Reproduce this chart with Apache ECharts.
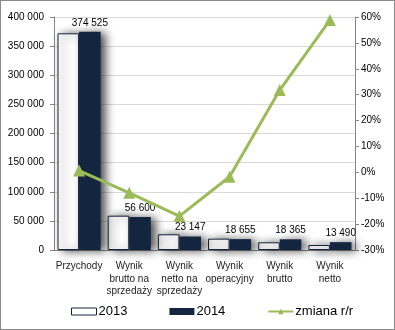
<!DOCTYPE html>
<html><head><meta charset="utf-8">
<script src="https://cdn.jsdelivr.net/npm/echarts@6/dist/echarts.min.js"></script>
<style>
html,body{margin:0;padding:0;background:#fff;}
#wrap{width:395px;height:330px;box-sizing:border-box;border:1px solid #8a8a8a;position:relative;overflow:hidden;}
#c{position:absolute;left:-1px;top:-1px;width:395px;height:330px;}
</style></head>
<body><div id="wrap"><div id="c"></div></div>
<script>
var categories = ['Przychody', 'Wynik\nbrutto na\nsprzedaży', 'Wynik\nnetto na\nsprzedaży', 'Wynik\noperacyjny', 'Wynik\nbrutto', 'Wynik\nnetto'];
var values2013 = [372000, 58900, 27000, 19500, 13200, 8600];
var values2014 = [374525, 56600, 23147, 18655, 18365, 13490];
var changeYoY = [0.7, -7.9, -16.9, -1.7, 31.8, 58.8];
var leftTicks = {min: 0, max: 400000, interval: 50000};
var rightTicks = {min: -30, max: 60, interval: 10};

function fmtThousands(v){ return String(Math.round(v)).replace(/\B(?=(\d{3})+(?!\d))/g, ' '); }

var chart = echarts.init(document.getElementById('c'), null, {renderer: 'canvas'});
var font = 'Liberation Sans, Arial, sans-serif';
var shadow = {shadowBlur: 10, shadowOffsetX: 5, shadowOffsetY: 1, shadowColor: 'rgba(0,0,0,0.7)'};
chart.setOption({
  animation: false,
  textStyle: {fontFamily: font},
  grid: {left: 54, right: 40, top: 17, bottom: 80},
  legend: {
    left: 66, top: 300, itemWidth: 25, itemHeight: 7, itemGap: 42,
    textStyle: {fontSize: 13, color: '#000', padding: [0,0,0,-3]},
    data: [
      {name: '2013', icon: 'rect', itemStyle: {color: '#fff', borderColor: '#14253f', borderWidth: 1, shadowBlur: 0, shadowOffsetX: 0, shadowOffsetY: 0}},
      {name: '2014', icon: 'rect', itemStyle: {shadowBlur: 0, shadowOffsetX: 0, shadowOffsetY: 0}},
      {name: 'zmiana r/r'}
    ]
  },
  xAxis: {
    type: 'category', data: categories,
    axisLine: {lineStyle: {color: '#868686'}},
    axisTick: {show: false},
    axisLabel: {interval: 0, fontSize: 10, color: '#222', lineHeight: 12.5, margin: 10}
  },
  yAxis: [
    {
      type: 'value', min: leftTicks.min, max: leftTicks.max, interval: leftTicks.interval,
      axisLine: {show: true, lineStyle: {color: '#868686'}},
      axisTick: {show: true, length: 4, lineStyle: {color: '#868686'}},
      splitLine: {lineStyle: {color: '#d9d9d9'}},
      axisLabel: {fontSize: 10, color: '#000', margin: 10, formatter: fmtThousands}
    },
    {
      type: 'value', min: rightTicks.min, max: rightTicks.max, interval: rightTicks.interval,
      position: 'right',
      axisLine: {show: true, lineStyle: {color: '#868686'}},
      axisTick: {show: true, length: 4, lineStyle: {color: '#868686'}},
      splitLine: {show: false},
      axisLabel: {fontSize: 10, color: '#000', margin: 6, formatter: function(v){ return v + '%'; }}
    }
  ],
  series: [
    {
      name: '2013', type: 'bar', data: values2013, barGap: '0%', barCategoryGap: '14%',
      itemStyle: Object.assign({color: '#ffffff', borderColor: '#14253f', borderWidth: 1}, shadow)
    },
    {
      name: '2014', type: 'bar', data: values2014,
      itemStyle: Object.assign({color: '#14253f'}, shadow),
      label: {show: true, position: 'top', distance: 4, fontSize: 10, color: '#000', formatter: function(p){ return fmtThousands(p.value); }}
    },
    {
      name: 'zmiana r/r', type: 'line', yAxisIndex: 1, data: changeYoY,
      symbol: 'triangle', symbolSize: 12,
      lineStyle: {color: '#9bbb59', width: 3},
      itemStyle: {color: '#9bbb59'}
    }
  ]
});
</script></body></html>
